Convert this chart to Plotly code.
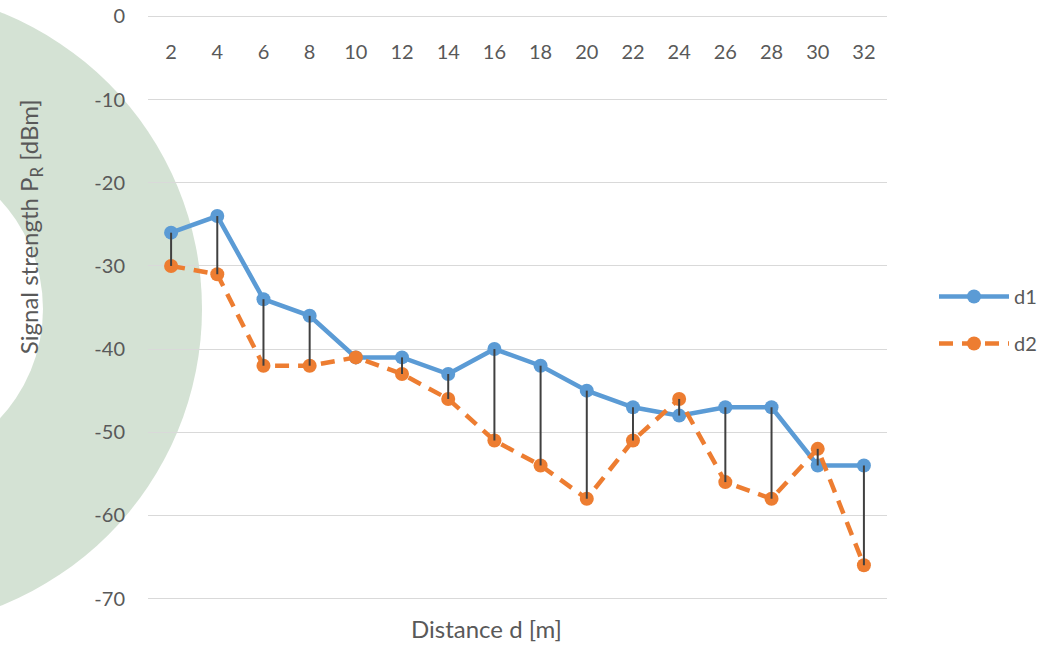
import plotly.graph_objects as go

# Measured received power at each distance for the two devices
distance_m = ["2", "4", "6", "8", "10", "12", "14", "16", "18", "20", "22", "24", "26", "28", "30", "32"]
d1_dbm = [-26, -24, -34, -36, -41, -41, -43, -40, -42, -45, -47, -48, -47, -47, -54, -54]
d2_dbm = [-30, -31, -42, -42, -41, -43, -46, -51, -54, -58, -51, -46, -56, -58, -52, -66]

y_ticks = [0, -10, -20, -30, -40, -50, -60, -70]
y_tick_text = ["0", "-10", "-20", "-30", "-40", "-50", "-60", "-70"]

W, H = 1044, 645
PLOT_L, PLOT_R = 148, 887
Y_TOP_PX, Y_BOT_PX = 16, 599          # pixel rows of 0 dBm and -70 dBm
PAD = 0.3                               # small range padding so edge gridlines are kept
k = (Y_BOT_PX - Y_TOP_PX) / 70.0
m_top = Y_TOP_PX - PAD * k
m_bot = H - Y_BOT_PX - PAD * k
plot_h = H - m_top - m_bot
plot_w = PLOT_R - PLOT_L


def px_x(p):
    return (p - PLOT_L) / plot_w


def px_y(p):
    return (H - m_bot - p) / plot_h


def py_paper(p):
    # paper fraction for a pixel row (paper spans the plot area vertically)
    return (H - m_bot - p) / plot_h


FONT = "Lato"
TXT = "#595959"

fig = go.Figure()

# High-low connectors between the two series
hl_x, hl_y = [], []
for cat, a, b in zip(distance_m, d1_dbm, d2_dbm):
    hl_x += [cat, cat, None]
    hl_y += [a, b, None]

fig.add_trace(go.Scatter(
    x=distance_m, y=d1_dbm, name="d1", mode="lines+markers",
    line=dict(color="#5B9BD5", width=4.5),
    marker=dict(color="#5B9BD5", size=14),
    legendgroup="a",
))
fig.add_trace(go.Scatter(
    x=distance_m, y=d2_dbm, name="d2", mode="lines+markers",
    line=dict(color="#ED7D31", width=4.5, dash="14px,9px"),
    marker=dict(color="#ED7D31", size=14),
    legendgroup="b",
))
fig.add_trace(go.Scatter(
    x=hl_x, y=hl_y, mode="lines", showlegend=False, hoverinfo="skip",
    line=dict(color="#404040", width=2),
))

# Decorative ring behind the left part of the chart
cx, cy, R_out, R_in = -118, 309, 320, 161
shapes = [
    dict(type="circle", xref="paper", yref="paper", layer="below",
         x0=px_x(cx - R_out), x1=px_x(cx + R_out),
         y0=px_y(cy + R_out), y1=px_y(cy - R_out),
         fillcolor="#D4E2D4", line=dict(width=0)),
    dict(type="circle", xref="paper", yref="paper", layer="below",
         x0=px_x(cx - R_in), x1=px_x(cx + R_in),
         y0=px_y(cy + R_in), y1=px_y(cy - R_in),
         fillcolor="white", line=dict(width=0)),
]

fig.update_layout(
    width=W, height=H,
    margin=dict(l=PLOT_L, r=W - PLOT_R, t=m_top, b=m_bot, pad=0, autoexpand=False),
    paper_bgcolor="white", plot_bgcolor="rgba(0,0,0,0)",
    font=dict(family=FONT, color=TXT, size=20),
    shapes=shapes,
    showlegend=True,
    legend=dict(
        x=px_x(934), y=px_y(320), xanchor="left", yanchor="middle",
        font=dict(family=FONT, size=20, color=TXT),
        itemwidth=70, traceorder="grouped", tracegroupgap=18,
        bgcolor="rgba(0,0,0,0)",
    ),
    # category labels sit just below the 0 dBm line
    xaxis=dict(
        type="category", categoryorder="array", categoryarray=distance_m,
        range=[-0.5, len(distance_m) - 0.5],
        side="bottom", anchor="free", position=py_paper(36),
        ticks="", ticklabelstandoff=2, automargin=False,
        showgrid=False, zeroline=False, showline=False,
        tickfont=dict(family=FONT, size=20, color=TXT),
    ),
    yaxis=dict(
        range=[-70 - PAD, 0 + PAD],
        tickvals=y_ticks, ticktext=y_tick_text,
        showgrid=True, gridcolor="#D9D9D9", gridwidth=1.3,
        zeroline=False, showline=False, ticks="",
        ticklabelstandoff=22, automargin=False,
        tickfont=dict(family=FONT, size=20, color=TXT),
    ),
    annotations=[
        dict(text="Distance d [m]", xref="paper", yref="paper",
             x=px_x(486), y=px_y(629), xanchor="center", yanchor="middle",
             showarrow=False, font=dict(family=FONT, size=24, color=TXT)),
        dict(text="Signal strength P<sub>R</sub> [dBm]", xref="paper", yref="paper",
             x=px_x(30), y=px_y(227), xanchor="center", yanchor="middle",
             textangle=-90, showarrow=False,
             font=dict(family=FONT, size=24, color=TXT)),
    ],
)

fig.write_html("out.html")
